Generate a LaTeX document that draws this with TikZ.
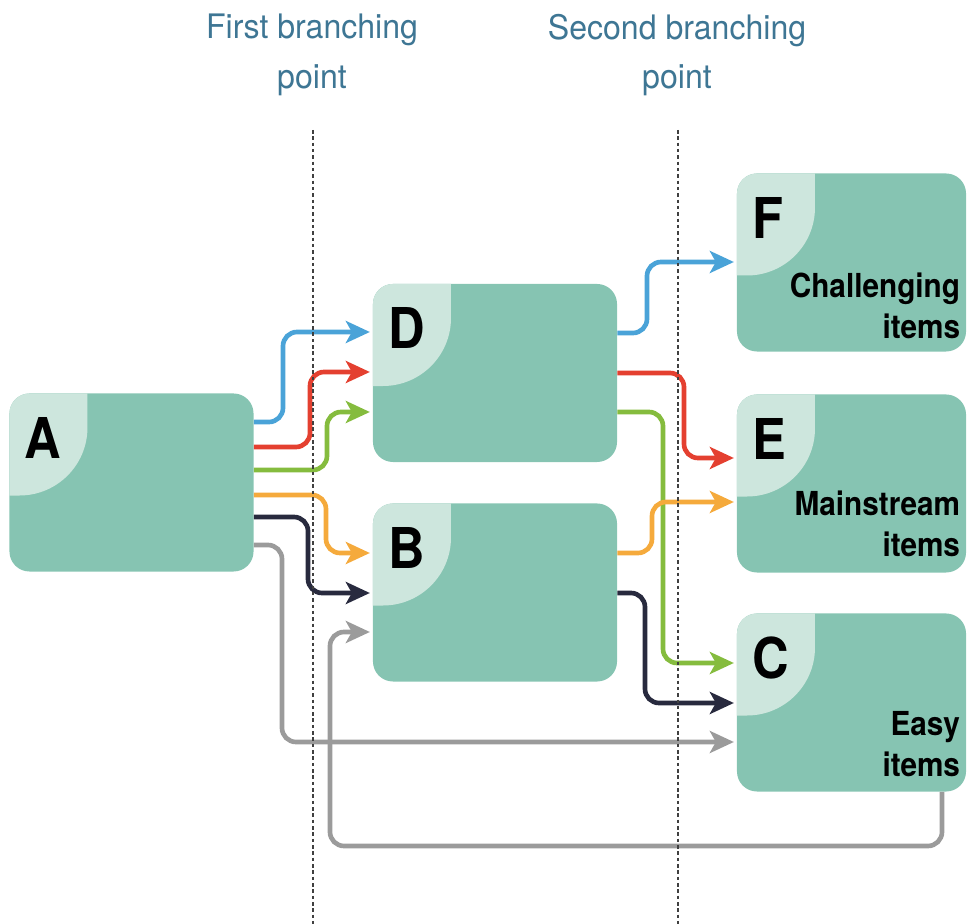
\documentclass[tikz,border=0pt]{standalone}
\usepackage{fontspec}
\setmainfont{TeX Gyre Heros}
\newfontfamily\narrowfont[FakeStretch=0.9]{TeX Gyre Heros}
\newfontfamily\titlefont[FakeStretch=0.95]{TeX Gyre Heros}
\usetikzlibrary{arrows.meta}
\definecolor{boxfill}{RGB}{134,196,178}
\definecolor{cornerfill}{RGB}{205,230,221}
\definecolor{titleblue}{RGB}{62,118,148}
\definecolor{lblue}{RGB}{74,163,216}
\definecolor{lred}{RGB}{228,64,48}
\definecolor{lgreen}{RGB}{133,188,62}
\definecolor{lorange}{RGB}{245,170,60}
\definecolor{lnavy}{RGB}{40,42,62}
\definecolor{lgray}{RGB}{155,155,155}

\begin{document}
\begin{tikzpicture}[x=0.025cm, y=-0.025cm,
    stage/.style = {fill=boxfill, rounded corners=0.5cm, minimum height=4.45cm, inner sep=0pt,
      path picture={\fill[cornerfill, sharp corners] ([shift={(-0.5cm,0.5cm)}]path picture bounding box.north west)
        -- ++(2.45cm,0cm) -- ++(0cm,-1.35cm) arc[start angle=0, end angle=-90, radius=1.7cm] -- ++(-1.75cm,0cm) -- cycle;}},
    wide/.style = {stage, minimum width=6.1cm}, narrow/.style = {stage, minimum width=5.725cm},
    tag/.style = {font=\narrowfont\fontsize{40}{40}\selectfont\bfseries, inner sep=0pt, anchor=base west},
    note/.style = {font=\narrowfont\fontsize{23.5}{29}\selectfont\bfseries, align=right, inner sep=0pt, anchor=south east},
    title/.style = {font=\titlefont\fontsize{24}{35}\selectfont, text=titleblue, align=center, inner sep=0pt, anchor=north},
    link/.style = {line width=3.3pt, rounded corners=0.35cm, shorten >=2pt, -{Stealth[length=0.6cm, width=0.55cm, inset=0.15cm]}},
    guide/.style = {draw=black!75, line width=0.9pt, dash pattern=on 2.5pt off 2pt}]
    \useasboundingbox (0,0) rectangle (968,924);
    \node[title] (first) at (312,14) {First branching\\point};
    \node[title] (second) at (677,14) {Second branching\\point};
    \node[wide] (A) at (131.5,482.5) {}; \node[wide] (D) at (495,373) {}; \node[wide] (B) at (495,592.5) {};
    \node[narrow] (F) at (851.5,262.5) {}; \node[narrow] (E) at (851.5,483.5) {}; \node[narrow] (C) at (851.5,702.5) {};
    \node[tag] (tA) at ([shift={(0.375cm,-1.625cm)}]A.north west) {A};
    \node[tag] (tD) at ([shift={(0.4cm,-1.625cm)}]D.north west) {D};
    \node[tag] (tB) at ([shift={(0.4cm,-1.625cm)}]B.north west) {B};
    \node[tag] (tF) at ([shift={(0.4cm,-1.625cm)}]F.north west) {F};
    \node[tag] (tE) at ([shift={(0.4cm,-1.625cm)}]E.north west) {E};
    \node[tag] (tC) at ([shift={(0.4cm,-1.625cm)}]C.north west) {C};
    \node[note] (nF) at ([shift={(-0.15cm,0.32cm)}]F.south east) {Challenging\\items};
    \node[note] (nE) at ([shift={(-0.15cm,0.4cm)}]E.south east) {Mainstream\\items};
    \node[note] (nC) at ([shift={(-0.15cm,0.37cm)}]C.south east) {Easy\\items};
    \draw[link, lblue] (A.east |- 0,422) -- (283,422) -- (283,332) -- (D.west |- 0,332);
    \draw[link, lred] (A.east |- 0,447) -- (310,447) -- (310,372) -- (D.west |- 0,372);
    \draw[link, lgreen] (A.east |- 0,470) -- (327,470) -- (327,412) -- (D.west |- 0,412);
    \draw[link, lorange] (A.east |- 0,495) -- (326,495) -- (326,553) -- (B.west |- 0,553);
    \draw[link, lnavy] (A.east |- 0,517) -- (308,517) -- (308,593) -- (B.west |- 0,593);
    \draw[link, lgray] (A.east |- 0,545) -- (282,545) -- (282,742) -- (C.west |- 0,742);
    \draw[link, lgray] (C.south -| 942,0) -- (942,846) -- (330,846) -- (330,632) -- (B.west |- 0,632);
    \draw[link, lblue] (D.east |- 0,333) -- (647,333) -- (647,262) -- (F.west |- 0,262);
    \draw[link, lred] (D.east |- 0,373) -- (684,373) -- (684,458) -- (E.west |- 0,458);
    \draw[link, lgreen] (D.east |- 0,412) -- (663,412) -- (663,663) -- (C.west |- 0,663);
    \draw[link, lorange] (B.east |- 0,553) -- (652,553) -- (652,502) -- (E.west |- 0,502);
    \draw[link, lnavy] (B.east |- 0,593) -- (645,593) -- (645,703) -- (C.west |- 0,703);
    \draw[guide] (313,130) -- (313,924); \draw[guide] (678,130) -- (678,924);
\end{tikzpicture}
\end{document}
